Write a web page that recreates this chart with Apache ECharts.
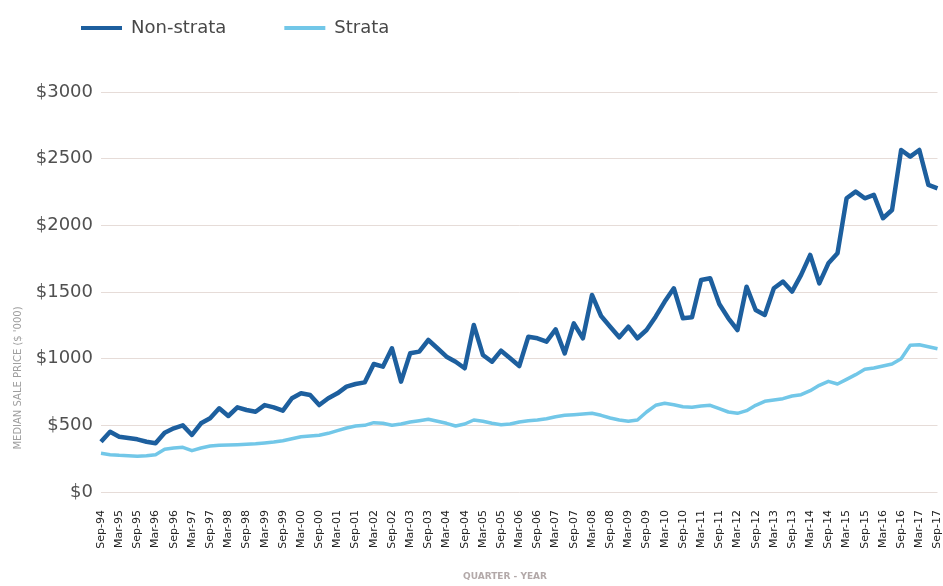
<!DOCTYPE html>
<html>
<head>
<meta charset="utf-8">
<script src="https://cdn.jsdelivr.net/npm/echarts@6/dist/echarts.min.js"></script>
<style>
  html, body { margin: 0; padding: 0; background: #ffffff; }
  #chart { width: 943px; height: 586px; }
</style>
</head>
<body>
<div id="chart"></div>
<script>
// Quarterly periods, Sep-94 to Sep-17
const quarters = [
  'Sep-94','Dec-94',
  'Mar-95','Jun-95','Sep-95','Dec-95',
  'Mar-96','Jun-96','Sep-96','Dec-96',
  'Mar-97','Jun-97','Sep-97','Dec-97',
  'Mar-98','Jun-98','Sep-98','Dec-98',
  'Mar-99','Jun-99','Sep-99','Dec-99',
  'Mar-00','Jun-00','Sep-00','Dec-00',
  'Mar-01','Jun-01','Sep-01','Dec-01',
  'Mar-02','Jun-02','Sep-02','Dec-02',
  'Mar-03','Jun-03','Sep-03','Dec-03',
  'Mar-04','Jun-04','Sep-04','Dec-04',
  'Mar-05','Jun-05','Sep-05','Dec-05',
  'Mar-06','Jun-06','Sep-06','Dec-06',
  'Mar-07','Jun-07','Sep-07','Dec-07',
  'Mar-08','Jun-08','Sep-08','Dec-08',
  'Mar-09','Jun-09','Sep-09','Dec-09',
  'Mar-10','Jun-10','Sep-10','Dec-10',
  'Mar-11','Jun-11','Sep-11','Dec-11',
  'Mar-12','Jun-12','Sep-12','Dec-12',
  'Mar-13','Jun-13','Sep-13','Dec-13',
  'Mar-14','Jun-14','Sep-14','Dec-14',
  'Mar-15','Jun-15','Sep-15','Dec-15',
  'Mar-16','Jun-16','Sep-16','Dec-16',
  'Mar-17','Jun-17','Sep-17'
];

// Median sale price, $'000
const nonStrata = [
  377,452,415,405,395,377,365,445,478,500,
  428,515,553,628,570,635,615,602,652,635,
  610,703,740,727,652,703,740,790,810,822,
  960,940,1078,828,1040,1053,1140,1078,1015,977,
  928,1253,1028,977,1060,1003,945,1165,1153,1128,
  1220,1040,1265,1153,1478,1320,1240,1160,1240,1153,
  1215,1315,1428,1528,1303,1310,1590,1603,1410,1303,
  1215,1540,1365,1328,1528,1578,1503,1628,1778,1565,
  1715,1790,2203,2253,2203,2228,2053,2115,2565,2515,
  2565,2303,2278
];

const strata = [
  290,280,275,272,268,272,280,320,330,335,
  310,330,345,350,352,355,358,362,368,375,
  385,400,415,420,425,440,460,480,495,500,
  520,515,500,510,525,535,545,530,515,495,
  510,540,530,515,505,510,525,535,540,550,
  565,575,580,585,590,575,555,540,530,540,
  600,650,665,655,640,635,645,650,625,600,
  590,610,650,680,690,700,720,730,760,800,
  830,810,845,880,920,930,945,960,1000,1100,
  1105,1090,1075
];

const seriesNames = ['Non-strata', 'Strata'];
const yTitle = "MEDIAN SALE PRICE ($ '000)";
const xTitle = 'QUARTER - YEAR';

const DARK = '#1d5f9e';
const LIGHT = '#72c7e8';
const FONT = 'DejaVu Sans';

const chart = echarts.init(document.getElementById('chart'), null, { renderer: 'canvas' });

chart.setOption({
  backgroundColor: '#ffffff',
  animation: false,
  textStyle: { fontFamily: FONT },
  legend: {
    left: 76,
    top: 14,
    itemWidth: 41,
    itemGap: 58,
    icon: 'rect',
    data: [
      { name: seriesNames[0], itemStyle: { color: DARK }, itemHeight: 5 },
      { name: seriesNames[1], itemStyle: { color: LIGHT } }
    ],
    itemHeight: 4,
    textStyle: { fontFamily: FONT, fontSize: 18, color: '#484848', padding: [0, 0, 0, 4] }
  },
  grid: { left: 101, right: 2, top: 92, bottom: 94, containLabel: false },
  xAxis: {
    type: 'category',
    data: quarters,
    boundaryGap: false,
    axisLine: { show: false },
    axisTick: { show: false },
    axisLabel: {
      interval: 1,
      rotate: 90,
      margin: 18,
      fontFamily: FONT,
      fontSize: 11,
      color: '#222'
    },
    splitLine: { show: false }
  },
  yAxis: {
    type: 'value',
    min: 0,
    max: 3000,
    interval: 500,
    axisLine: { show: false },
    axisTick: { show: false },
    axisLabel: {
      margin: 8,
      fontFamily: FONT,
      fontSize: 18,
      color: '#505050',
      formatter: v => '$' + v
    },
    splitLine: { lineStyle: { color: '#e6dcd8', width: 1 } }
  },
  graphic: [
    {
      type: 'text',
      x: 18,
      y: 378,
      rotation: Math.PI / 2,
      style: {
        text: yTitle,
        fontFamily: FONT,
        fontSize: 10,
        fill: '#9e9e9e',
        align: 'center',
        verticalAlign: 'middle'
      }
    },
    {
      type: 'text',
      x: 505,
      y: 577,
      style: {
        text: xTitle,
        fontFamily: FONT,
        fontSize: 9,
        fontWeight: 'bold',
        fill: '#b3a9a9',
        align: 'center',
        verticalAlign: 'middle'
      }
    }
  ],
  series: [
    {
      name: seriesNames[1],
      type: 'line',
      data: strata,
      showSymbol: false,
      symbol: 'none',
      lineStyle: { color: LIGHT, width: 3.5, join: 'round' },
      itemStyle: { color: LIGHT },
      z: 2
    },
    {
      name: seriesNames[0],
      type: 'line',
      data: nonStrata,
      showSymbol: false,
      symbol: 'none',
      lineStyle: { color: DARK, width: 4.5, join: 'round' },
      itemStyle: { color: DARK },
      z: 3
    }
  ]
});
</script>
</body>
</html>
